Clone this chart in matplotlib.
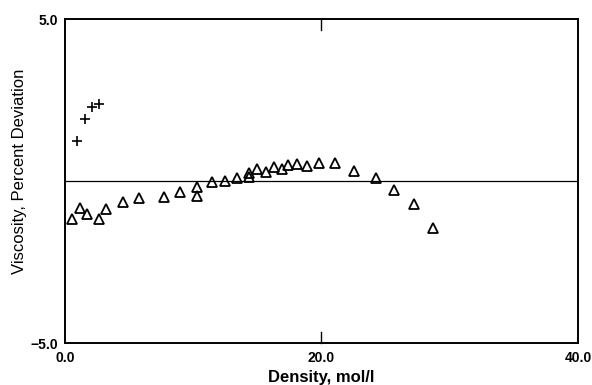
import numpy as np
import matplotlib.pyplot as plt

plt.rcParams['font.family'] = ['Liberation Sans', 'DejaVu Sans']

# plus markers (low density series)
plus_density = [0.91, 1.54, 2.10, 2.67]
plus_dev = [1.24, 1.92, 2.29, 2.38]

# triangle markers
tri_density = [0.52, 1.17, 1.69, 2.62, 3.17, 4.49, 5.77, 7.72, 8.94, 10.31,
               10.31, 11.46, 12.47, 13.43, 14.32, 14.32, 14.96, 15.69, 16.31, 16.89,
               17.38, 18.08, 18.89, 19.82, 21.02, 22.53, 24.26, 25.64, 27.20, 28.66]
tri_dev = [-1.17, -0.84, -1.02, -1.18, -0.87, -0.64, -0.51, -0.48, -0.33, -0.19,
           -0.46, -0.02, 0.01, 0.10, 0.13, 0.26, 0.36, 0.29, 0.43, 0.36,
           0.50, 0.53, 0.46, 0.55, 0.55, 0.32, 0.10, -0.28, -0.71, -1.45]

x_ticks = [0.0, 20.0, 40.0]
x_ticklabels = ['0.0', '20.0', '40.0']
y_ticks = [-5.0, 5.0]
y_ticklabels = ['\u22125.0', '5.0']

fig = plt.figure(figsize=(5.92, 3.85), dpi=100)
ax = fig.add_axes([0.1098, 0.109, 0.8665, 0.8416])

ax.axhline(0, color='black', lw=0.9, zorder=1)
ax.plot(plus_density, plus_dev, linestyle='none', marker='+', color='black',
        markersize=7, mew=1.2)
ax.plot(tri_density, tri_dev, linestyle='none', marker='^', mfc='none', mec='black',
        markersize=6.5, mew=1.3)

ax.set_xlim(0, 40)
ax.set_ylim(-5, 5)

ax.set_xticks(x_ticks)
ax.set_xticklabels(x_ticklabels, fontsize=10, fontweight='bold')
ax.set_yticks(y_ticks)
ax.set_yticklabels(y_ticklabels, fontsize=10, fontweight='bold')
ax.tick_params(axis='y', length=0, pad=5)
ax.tick_params(axis='x', length=0, pad=6)

# inward tick at 20 on top and bottom
ax.plot([20, 20], [-5, -4.65], color='black', lw=1.0, clip_on=False)
ax.plot([20, 20], [5, 4.65], color='black', lw=1.0, clip_on=False)

for s in ax.spines.values():
    s.set_linewidth(1.4)
    s.set_color('black')

ax.set_xlabel('Density, mol/l', fontsize=12, fontweight='bold', labelpad=3)
ax.set_ylabel('Viscosity, Percent Deviation', fontsize=12)
ax.yaxis.set_label_coords(-0.075, 0.53)

fig.savefig('out.png', dpi=100)
